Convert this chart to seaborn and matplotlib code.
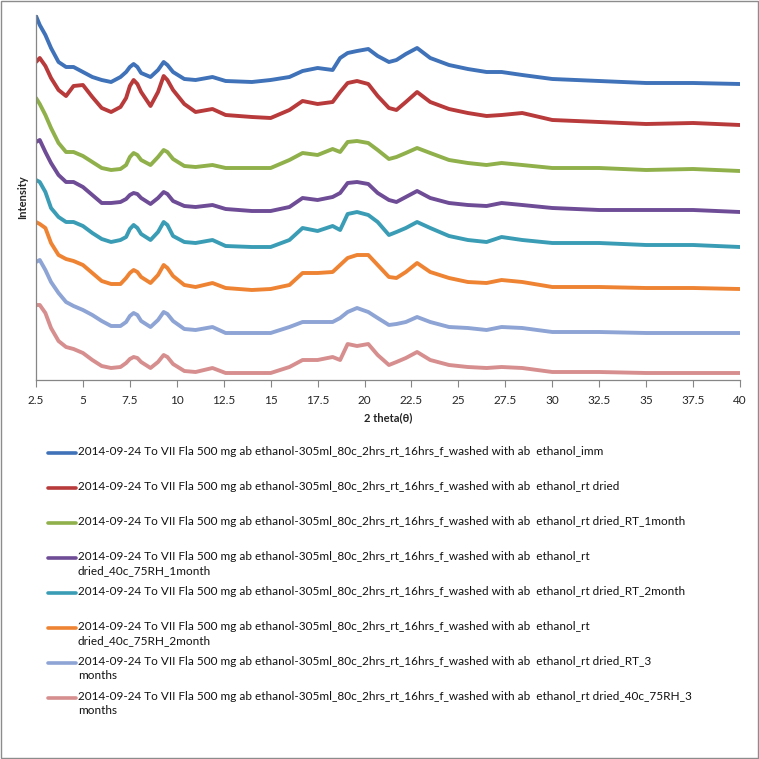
import matplotlib
matplotlib.use("Agg")
import matplotlib.pyplot as plt
import seaborn as sns
import pandas as pd
from matplotlib.lines import Line2D
from matplotlib.patches import Rectangle

# 1. DATA (stacked XRD patterns, intensity in arbitrary units)
two_theta = [2.5, 2.7, 3.0, 3.3, 3.7, 4.1, 4.5, 5.0, 5.5, 6.0, 6.5, 7.0, 7.3, 7.5, 7.7,
             7.9, 8.1, 8.6, 9.0, 9.3, 9.5, 9.8, 10.4, 11.0, 11.9, 12.6, 14.0, 15.0, 16.0,
             16.7, 17.5, 18.3, 18.7, 19.1, 19.6, 20.2, 20.7, 21.3, 21.7, 22.2, 22.8,
             23.5, 24.5, 25.5, 26.5, 27.3, 28.4, 30.0, 32.5, 35.0, 37.5, 40.0]

imm = [364, 355, 345, 332, 318, 313, 313, 308, 303, 300, 298, 303, 308, 313, 316,
       313, 307, 303, 310, 318, 315, 308, 301, 300, 303, 299, 298, 300, 303,
       309, 312, 310, 322, 327, 329, 331, 324, 318, 320, 326, 332,
       322, 315, 311, 308, 308, 305, 301, 299, 297, 297, 296]
rt_dried = [318, 322, 314, 302, 290, 284, 294, 295, 283, 272, 268, 273, 282, 294, 300,
            296, 288, 274, 288, 304, 300, 290, 276, 268, 271, 265, 263, 262, 270,
            279, 276, 278, 288, 297, 299, 296, 284, 272, 270, 278, 288,
            278, 271, 267, 264, 265, 267, 260, 258, 256, 257, 255]
rt_1m = [282, 276, 265, 252, 237, 228, 228, 224, 218, 212, 210, 211, 215, 223, 227,
         225, 220, 215, 223, 230, 228, 221, 214, 213, 215, 212, 212, 212, 220,
         227, 225, 231, 228, 238, 239, 237, 230, 221, 223, 227, 232,
         227, 220, 217, 215, 217, 215, 212, 212, 210, 211, 209]
rh_1m = [238, 240, 228, 217, 205, 198, 198, 193, 185, 177, 177, 178, 181, 185, 187,
         186, 182, 176, 182, 188, 186, 179, 174, 173, 175, 171, 169, 169, 173,
         182, 180, 183, 187, 197, 198, 196, 187, 180, 178, 183, 189,
         182, 177, 175, 174, 177, 175, 172, 170, 170, 170, 168]
rt_2m = [200, 198, 188, 172, 163, 158, 158, 154, 147, 141, 138, 140, 143, 151, 155,
         152, 146, 140, 148, 158, 155, 144, 138, 137, 140, 134, 133, 133, 140,
         152, 149, 154, 150, 166, 168, 165, 158, 145, 148, 152, 158,
         152, 144, 140, 138, 143, 140, 137, 137, 135, 135, 133]
rh_2m = [158, 156, 152, 137, 125, 121, 119, 115, 107, 99, 96, 96, 102, 107, 110,
         108, 103, 97, 105, 115, 112, 104, 95, 93, 97, 92, 90, 91, 95,
         107, 107, 108, 115, 122, 125, 125, 115, 103, 102, 108, 117,
         108, 102, 98, 97, 100, 98, 93, 93, 92, 92, 91]
rt_3m = [118, 120, 110, 98, 87, 78, 74, 70, 65, 59, 54, 54, 58, 64, 67,
         65, 59, 53, 60, 68, 66, 59, 51, 50, 53, 47, 47, 47, 53,
         58, 58, 58, 62, 68, 72, 68, 62, 55, 56, 58, 63,
         58, 53, 52, 50, 53, 52, 48, 48, 47, 47, 47]
rh_3m = [75, 75, 67, 52, 39, 33, 31, 27, 20, 14, 12, 13, 17, 21, 23,
         22, 18, 12, 18, 25, 23, 16, 9, 8, 12, 7, 7, 7, 13,
         20, 20, 23, 20, 36, 34, 36, 25, 15, 18, 22, 28,
         20, 15, 13, 12, 13, 12, 8, 8, 7, 7, 7]

prefix = "2014-09-24 To VII Fla 500 mg ab ethanol-305ml_80c_2hrs_rt_16hrs_f_washed with ab  ethanol_"
labels = [
    prefix + "imm",
    prefix + "rt dried",
    prefix + "rt dried_RT_1month",
    prefix + "rt\ndried_40c_75RH_1month",
    prefix + "rt dried_RT_2month",
    prefix + "rt\ndried_40c_75RH_2month",
    prefix + "rt dried_RT_3\nmonths",
    prefix + "rt dried_40c_75RH_3\nmonths",
]
colors = ["#3F72B8", "#B83A3A", "#8FB04A", "#6E4C96", "#3A9DB5", "#EE8433",
          "#8DA4D4", "#D68F8E"]

series = [imm, rt_dried, rt_1m, rh_1m, rt_2m, rh_2m, rt_3m, rh_3m]
frames = []
for i, vals in enumerate(series):
    frames.append(pd.DataFrame({"two_theta": two_theta, "intensity": vals, "sample": str(i)}))
df = pd.concat(frames, ignore_index=True)

# 2. PLOT
sns.set_theme(style="white")
plt.rcParams["font.family"] = ["Lato", "DejaVu Sans"]
plt.rcParams["lines.solid_joinstyle"] = "round"

fig = plt.figure(figsize=(7.59, 7.59), dpi=100)
ax = fig.add_axes([36 / 759, 1 - 380 / 759, 704 / 759, 365 / 759])

sns.lineplot(data=df, x="two_theta", y="intensity", hue="sample",
             palette=colors, linewidth=2.8, legend=False, ax=ax, sort=False)

ax.set_xlim(2.5, 40)
ax.set_ylim(0, 365)
ax.set_xticks([2.5 + 2.5 * k for k in range(16)])
ax.set_xticklabels(["2.5", "5", "7.5", "10", "12.5", "15", "17.5", "20", "22.5",
                    "25", "27.5", "30", "32.5", "35", "37.5", "40"], fontsize=8.5)
ax.set_yticks([])
ax.tick_params(axis="x", direction="out", length=5, width=0.8, color="#868686",
               bottom=True, pad=6)
for side in ["top", "right"]:
    ax.spines[side].set_visible(False)
for side in ["left", "bottom"]:
    ax.spines[side].set_color("#868686")
    ax.spines[side].set_linewidth(0.9)

ax.set_xlabel("2 theta(θ)", fontsize=8, fontweight="bold", labelpad=4)
ax.set_ylabel("Intensity", fontsize=8, fontweight="bold", labelpad=6)

# 3. LEGEND (Excel style, fixed row pitch)
for i, (lab, c) in enumerate(zip(labels, colors)):
    ytop = 446 + 35 * i
    fig.add_artist(Line2D([48 / 759, 76 / 759], [1 - (ytop + 7) / 759] * 2,
                          color=c, linewidth=2.6, transform=fig.transFigure))
    fig.text(78 / 759, 1 - ytop / 759, lab, fontsize=8.45, va="top", ha="left",
             linespacing=1.35, color="#111111")

fig.add_artist(Rectangle((1 / 759, 1 / 759), 757 / 759, 757 / 759, fill=False,
                         edgecolor="#8c8c8c", linewidth=1.0, transform=fig.transFigure))

fig.savefig("out.png", dpi=100)
